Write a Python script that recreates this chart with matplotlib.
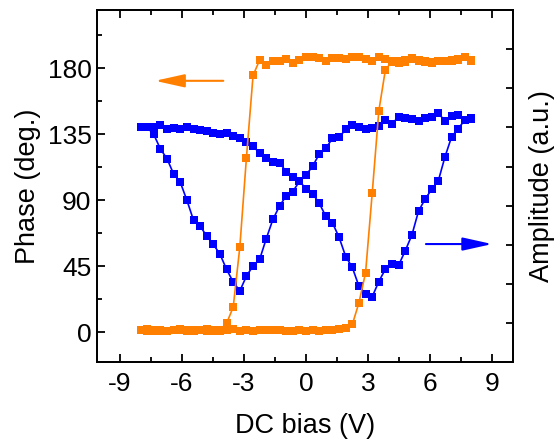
import numpy as np
import matplotlib
matplotlib.use('Agg')
import matplotlib.pyplot as plt

plt.rcParams['font.family'] = ['Liberation Sans', 'DejaVu Sans']
plt.rcParams['axes.unicode_minus'] = False

# 偏压扫描点 (V)
bias = [-8.00, -7.68, -7.36, -7.04, -6.72, -6.40, -6.08, -5.76, -5.44, -5.12,
        -4.80, -4.48, -4.16, -3.84, -3.52, -3.20, -2.88, -2.56, -2.24, -1.92,
        -1.60, -1.28, -0.96, -0.64, -0.32, 0.00, 0.32, 0.64, 0.96, 1.28,
        1.60, 1.92, 2.24, 2.56, 2.88, 3.20, 3.52, 3.84, 4.16, 4.48,
        4.80, 5.12, 5.44, 5.76, 6.08, 6.40, 6.72, 7.04, 7.36, 7.68, 8.00]

# 相位: 正向扫描 (-8 -> 8)
phase_fwd = [1.5, 1.8, 1.0, 1.2, 0.8, 1.5, 1.3, 0.9, 1.7, 1.2,
             0.6, 1.4, 1.0, 1.6, 1.8, 0.7, 1.2, 0.9, 1.5, 1.1,
             1.6, 1.3, 1.0, 0.5, 1.4, 0.8, 1.2, 0.6, 1.3, 1.5,
             2.0, 2.8, 5.2, 20.0, 40.5, 94.5, 150.7, 179.0, 184.3, 183.2,
             184.3, 186.6, 185.0, 184.3, 183.6, 184.5, 184.5, 185.0, 185.5, 187.7, 185.0]
# 相位: 反向扫描 (按 bias 顺序存放, 实际从 8 扫到 -8)
phase_bwd = [1.2, 0.8, 1.6, 1.0, 0.5, 1.3, 1.8, 1.1, 0.7, 1.4,
             1.9, 1.0, 1.5, 6.0, 17.0, 58.0, 119.0, 175.0, 185.5, 182.0,
             185.0, 185.0, 186.0, 183.6, 185.5, 187.7, 187.3, 186.6, 185.0, 186.6,
             186.6, 185.9, 187.3, 187.7, 186.0, 185.0, 187.3, 186.0, 185.0, 184.5,
             185.5, 186.0, 185.5, 185.0, 184.0, 184.5, 185.0, 185.5, 186.0, 187.5, 185.5]

# 振幅 (a.u.)
amp_fwd = [6.00, 6.00, 6.00, 6.06, 5.95, 5.98, 5.96, 6.02, 5.95, 5.93,
           5.92, 5.86, 5.82, 5.86, 5.78, 5.74, 5.63, 5.52, 5.34, 5.22,
           5.12, 5.10, 4.87, 4.74, 4.64, 4.42, 4.31, 4.06, 3.73, 3.56,
           3.19, 2.70, 2.42, 1.94, 1.74, 1.67, 2.06, 2.38, 2.50, 2.48,
           2.85, 3.25, 3.86, 4.17, 4.42, 4.64, 5.25, 5.76, 5.97, 6.19, 6.23]
amp_bwd = [6.00, 6.00, 5.82, 5.45, 5.20, 4.81, 4.60, 4.14, 3.63, 3.48,
           3.22, 3.01, 2.76, 2.37, 2.05, 1.82, 2.20, 2.46, 2.63, 3.16,
           3.65, 3.99, 4.25, 4.36, 4.62, 4.78, 5.01, 5.32, 5.47, 5.72,
           5.75, 5.95, 6.06, 6.02, 5.95, 5.98, 6.04, 6.19, 6.10, 6.27,
           6.23, 6.21, 6.17, 6.23, 6.27, 6.36, 6.17, 6.29, 6.32, 6.19, 6.21]

orange = '#FF8000'
blue = '#0000FF'

x_loop = bias + bias[::-1]
phase_loop = phase_fwd + phase_bwd[::-1]
amp_loop = amp_fwd + amp_bwd[::-1]

fig = plt.figure(figsize=(5.55, 4.4), dpi=100)
ax = fig.add_axes([0.175, 0.177, 0.749, 0.8])
ax2 = ax.twinx()

ax2.plot(x_loop, amp_loop, color=blue, lw=1.2, marker='s', ms=5.4, mew=0)
ax.plot(x_loop, phase_loop, color=orange, lw=1.2, marker='s', ms=5.4, mew=0)

# 橙色在上层
ax.set_zorder(ax2.get_zorder() + 1)
ax.patch.set_visible(False)

ax.set_xlim(-10.1, 10.0)
ax.set_ylim(-20.5, 219.5)
ax2.set_ylim(0, 9)

ax.set_xticks([-9, -6, -3, 0, 3, 6, 9])
ax.set_xticks(np.arange(-7.5, 9, 3), minor=True)
ax.set_yticks([0, 45, 90, 135, 180])
ax.set_yticks([22.5, 67.5, 112.5, 157.5, 202.5], minor=True)
ax2.set_yticks(range(1, 9))
ax2.set_yticklabels([])

ax.tick_params(which='both', direction='in', top=True, right=False, width=1.3,
               labelsize=19)
ax.tick_params(which='major', length=6)
ax.tick_params(which='minor', length=3.5)
ax.tick_params(axis='x', pad=7)
ax.tick_params(axis='y', pad=4)
ax2.tick_params(direction='in', length=5, width=1.3)

for a in (ax, ax2):
    for s in a.spines.values():
        s.set_linewidth(1.3)

ax.set_xlabel('DC bias (V)', fontsize=19.5, labelpad=12)
ax.set_ylabel('Phase (deg.)', fontsize=19.5, labelpad=5)
ax2.set_ylabel('Amplitude (a.u.)', fontsize=19.5, labelpad=8)

# 箭头
ax.annotate('', xy=(-7.3, 171.3), xytext=(-4.0, 171.3),
            arrowprops=dict(arrowstyle='-|>,head_length=1.8,head_width=0.4',
                            color=orange, lw=1.5, shrinkA=0, shrinkB=0))
ax.annotate('', xy=(9.0, 60.0), xytext=(5.8, 60.0),
            arrowprops=dict(arrowstyle='-|>,head_length=1.8,head_width=0.4',
                            color=blue, lw=1.5, shrinkA=0, shrinkB=0))

fig.savefig('out.png', dpi=100)
plt.close()
